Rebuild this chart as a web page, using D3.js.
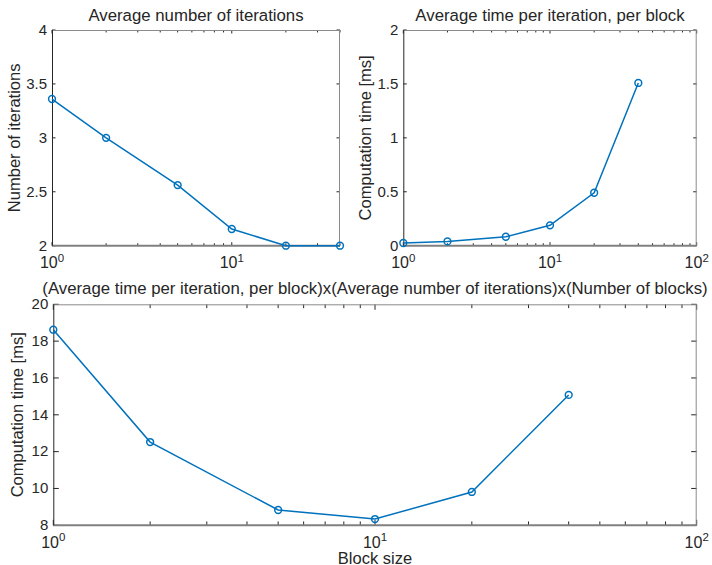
<!DOCTYPE html>
<html><head><meta charset="utf-8">
<script src="https://cdn.jsdelivr.net/npm/d3@7"></script>
<style>body{margin:0;background:#fff}svg{display:block}text{font-family:"Liberation Sans",Arial,sans-serif;fill:#262626}</style>
</head><body>
<svg id="chart" width="712" height="565"></svg>
<script>
const blockSize = [1, 2, 5, 10, 20, 40];
const avgIterations = [3.36, 3.0, 2.562, 2.155, 2.0, 2.0];
const timePerIter = [0.025, 0.04, 0.083, 0.189, 0.491, 1.509];
const totalTime = [18.62, 12.52, 8.83, 8.34, 9.81, 15.08];
const yTicks1 = [2, 2.5, 3, 3.5, 4];
const yTicks2 = [0, 0.5, 1, 1.5, 2];
const yTicks3 = [8, 10, 12, 14, 16, 18, 20];
const titles = ["Average number of iterations", "Average time per iteration, per block",
  "(Average time per iteration, per block)x(Average number of iterations)x(Number of blocks)"];
const yLabels = ["Number of iterations", "Computation time [ms]", "Computation time [ms]"];
const xLabel = "Block size";

const svg = d3.select("#chart");
const blue = "#0072BD";

function panel(o) {
  const x = d3.scaleLog().domain(o.xDomain).range([o.left, o.right]);
  const y = d3.scaleLinear().domain(o.yDomain).range([o.bottom, o.top]);
  const g = svg.append("g");
  const tl = o.tickLen;
  const ticksX = [];
  for (let d = 1; d <= 100; d *= 10) for (let m = 1; m < 10; m++) {
    const v = d * m; if (v >= o.xDomain[0] && v <= o.xDomain[1]) ticksX.push(v);
  }
  ticksX.forEach(v => {
    const major = Math.abs(Math.log10(v) - Math.round(Math.log10(v))) < 1e-9;
    const L = major ? tl : tl * 0.7;
    g.append("line").attr("x1", x(v)).attr("x2", x(v)).attr("y1", o.bottom).attr("y2", o.bottom - L).attr("stroke", "#262626").attr("stroke-width", 1);
    g.append("line").attr("x1", x(v)).attr("x2", x(v)).attr("y1", o.top).attr("y2", o.top + L).attr("stroke", "#262626").attr("stroke-width", 1);
    if (major) {
      const t = g.append("text").attr("x", x(v)).attr("y", o.bottom + 22.5).attr("text-anchor", "middle").attr("font-size", 16);
      t.append("tspan").text("10");
      t.append("tspan").attr("dy", -6.5).attr("font-size", 11.5).text(Math.round(Math.log10(v)));
    }
  });
  o.yTicks.forEach(v => {
    g.append("line").attr("x1", o.left).attr("x2", o.left + tl).attr("y1", y(v)).attr("y2", y(v)).attr("stroke", "#262626");
    g.append("line").attr("x1", o.right).attr("x2", o.right - tl).attr("y1", y(v)).attr("y2", y(v)).attr("stroke", "#262626");
    g.append("text").attr("x", o.left - 5).attr("y", y(v) + 4.8).attr("text-anchor", "end").attr("font-size", 15).text(v);
  });
  g.append("line").attr("x1", o.left).attr("x2", o.right).attr("y1", o.top + 0.5).attr("y2", o.top + 0.5).attr("stroke", "#8a8a8a");
  g.append("line").attr("x1", o.right - 0.5).attr("x2", o.right - 0.5).attr("y1", o.top).attr("y2", o.bottom).attr("stroke", "#8a8a8a");
  g.append("line").attr("x1", o.left).attr("x2", o.right).attr("y1", o.bottom).attr("y2", o.bottom).attr("stroke", "#808080").attr("stroke-width", 2);
  g.append("line").attr("x1", o.left + 0.5).attr("x2", o.left + 0.5).attr("y1", o.top).attr("y2", o.bottom).attr("stroke", "#262626");
  const pts = o.xs.map((d, i) => [d, o.ys[i]]);
  g.append("path").attr("d", d3.line().x(d => x(d[0])).y(d => y(d[1]))(pts))
    .attr("fill", "none").attr("stroke", blue).attr("stroke-width", 1.5);
  g.selectAll(null).data(pts).join("circle").attr("cx", d => x(d[0])).attr("cy", d => y(d[1])).attr("r", 3.4)
    .attr("fill", "none").attr("stroke", blue).attr("stroke-width", 1.5);
  g.append("text").attr("x", (o.left + o.right) / 2).attr("y", o.titleY).attr("text-anchor", "middle").attr("font-size", 16.8).text(o.title);
  g.append("text").attr("transform", `translate(${o.yLabelX},${(o.top + o.bottom) / 2}) rotate(-90)`).attr("text-anchor", "middle").attr("font-size", 16.5).text(o.yLabel);
  if (o.xLabel) g.append("text").attr("x", (o.left + o.right) / 2).attr("y", o.bottom + 39).attr("text-anchor", "middle").attr("font-size", 16.5).text(o.xLabel);
}

panel({left: 52, right: 340, top: 30, bottom: 245.7, xDomain: [1, 40], yDomain: [2, 4], yTicks: yTicks1,
  xs: blockSize, ys: avgIterations, title: titles[0], titleY: 21, yLabel: yLabels[0], yLabelX: 20, tickLen: 3.5});
panel({left: 403.3, right: 696.7, top: 30, bottom: 245.7, xDomain: [1, 100], yDomain: [0, 2], yTicks: yTicks2,
  xs: blockSize, ys: timePerIter, title: titles[1], titleY: 21, yLabel: yLabels[1], yLabelX: 371, tickLen: 3.5});
panel({left: 53.3, right: 696.7, top: 304.3, bottom: 525.3, xDomain: [1, 100], yDomain: [8, 20], yTicks: yTicks3,
  xs: blockSize, ys: totalTime, title: titles[2], titleY: 293.5, yLabel: yLabels[2], yLabelX: 23, tickLen: 5.5, xLabel: xLabel});
</script>
</body></html>
